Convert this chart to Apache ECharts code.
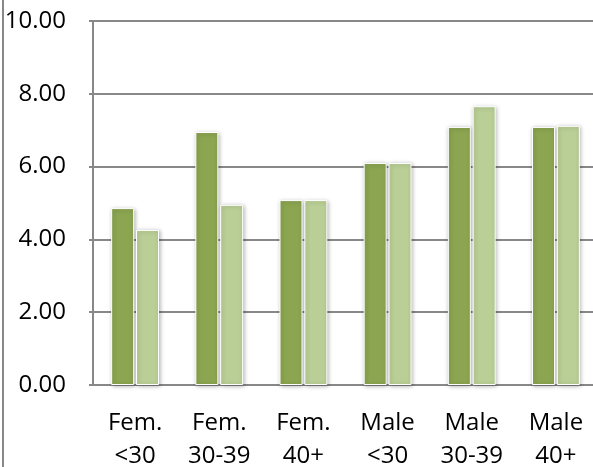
<!DOCTYPE html>
<html>
<head>
<meta charset="utf-8">
<script src="https://cdn.jsdelivr.net/npm/echarts@6/dist/echarts.min.js"></script>
<style>
  html, body { margin: 0; padding: 0; background: #fff; }
  #chart { width: 593px; height: 467px; }
</style>
</head>
<body>
<div id="chart"></div>
<script>
// Age/sex groups along the x axis
const categories = ['Fem.\n<30', 'Fem.\n30-39', 'Fem.\n40+', 'Male\n<30', 'Male\n30-39', 'Male\n40+'];
// Two measurement series per group
const seriesA = [4.86, 6.95, 5.08, 6.10, 7.09, 7.09];
const seriesB = [4.26, 4.95, 5.08, 6.10, 7.66, 7.12];
// Value axis ticks
const yMin = 0, yMax = 10, yStep = 2;

const fontFamily = '"Open Sans", "Noto Sans", sans-serif';
const gridColor = '#888888';

function barSeries(name, data, color) {
  return {
    name: name,
    type: 'bar',
    data: data,
    barWidth: 23,
    barGap: '8%',
    itemStyle: {
      color: color,
      borderColor: '#ffffff',
      borderWidth: 1,
      shadowColor: 'rgba(0,0,0,0.28)',
      shadowBlur: 4,
      shadowOffsetX: 1,
      shadowOffsetY: 1
    }
  };
}

const chart = echarts.init(document.getElementById('chart'), null, { renderer: 'canvas' });
chart.setOption({
  animation: false,
  backgroundColor: '#ffffff',
  grid: {
    left: 93, right: -5, top: 21, bottom: 82,
    containLabel: false,
    outerBoundsMode: 'none'
  },
  xAxis: {
    type: 'category',
    data: categories,
    axisLine: { lineStyle: { color: gridColor, width: 2 } },
    axisTick: { show: false },
    axisLabel: {
      color: '#000',
      fontFamily: fontFamily,
      fontSize: 24,
      lineHeight: 33,
      margin: 22,
      interval: 0
    }
  },
  yAxis: {
    type: 'value',
    min: yMin,
    max: yMax,
    interval: yStep,
    axisLine: { show: true, lineStyle: { color: gridColor, width: 2 } },
    axisTick: { show: true, length: 4, lineStyle: { color: gridColor, width: 2 } },
    splitLine: { lineStyle: { color: gridColor, width: 2 } },
    axisLabel: {
      color: '#000',
      fontFamily: fontFamily,
      fontSize: 24,
      margin: 27,
      formatter: v => v.toFixed(2)
    }
  },
  series: [
    barSeries('A', seriesA, '#8ba550'),
    barSeries('B', seriesB, '#bacf96')
  ],
  graphic: [{
    type: 'line',
    shape: { x1: 3, y1: 0, x2: 3, y2: 467 },
    style: { stroke: gridColor, lineWidth: 2 }
  }]
});
</script>
</body>
</html>
